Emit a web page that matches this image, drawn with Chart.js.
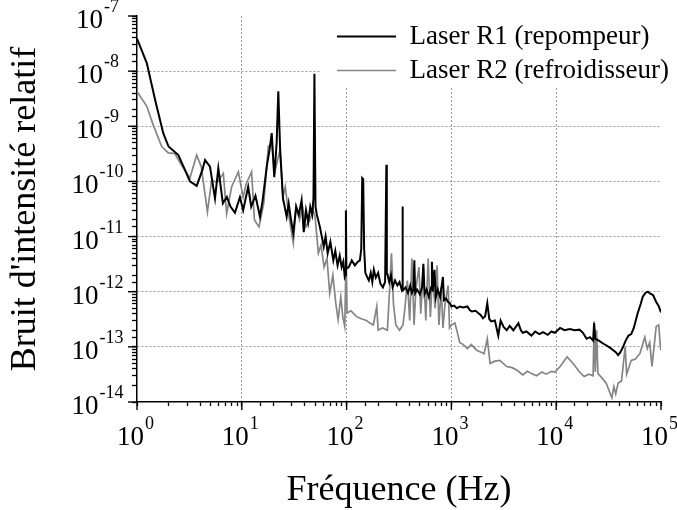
<!DOCTYPE html>
<html>
<head>
<meta charset="utf-8">
<script src="https://cdn.jsdelivr.net/npm/chart.js@4/dist/chart.umd.min.js"></script>
<style>
  html, body {margin: 0; padding: 0; background: #fff;}
  canvas {display: block;}
</style>
</head>
<body>
<canvas id="bruit" width="677" height="510"></canvas>
<script>
// Laser R1 (repompeur) - frequences (Hz) et bruit relatif
const freqR1 = [
  1, 1.24, 1.49, 1.78, 2.0, 2.48, 2.8, 3.2, 3.71, 4.2, 4.46, 4.97, 5.55, 5.97,
  6.6, 7.2, 7.8, 8.6, 9.6, 10.3, 11.5, 12.3, 13.5, 14.9, 15.8, 17.3, 18.5, 19.3,
  20.4, 21.5, 22.3, 23.2, 24.7, 26.8, 28, 29.5, 31, 33, 35, 37.2, 39, 41, 43, 45,
  47, 48.3, 49.3, 50.5, 52, 55.6, 58, 60.5, 63, 66, 70, 74.7, 78, 82, 86, 89.7,
  93, 96, 97.6, 98.5, 99.5, 105, 112, 120, 128, 134, 138, 141, 144, 147, 151, 158,
  163, 170, 176, 182, 190, 200, 210, 222, 233, 237, 239.5, 242, 245, 255, 265,
  275, 290, 305, 320, 335, 339, 341.5, 344, 347, 365, 385, 405, 420, 435, 443,
  451, 470, 500, 525, 540, 555, 580, 610, 640, 652, 665, 690, 710, 740, 780, 830,
  850, 890, 930, 970, 1000, 1060, 1130, 1200, 1300, 1420, 1500, 1570, 1700, 1800,
  1900, 2000, 2100, 2200, 2300, 2400, 2600, 2800, 2950, 3150, 3370, 3600, 3900,
  4360, 4600, 4800, 5200, 5800, 6300, 6900, 7500, 8300, 9000, 9700, 10900, 12000,
  13500, 15000, 16700, 18000, 19500, 21000, 22500, 23000, 23600, 25500, 28000,
  30000, 33000, 35000, 37000, 39000, 41000, 43500, 46000, 49000, 52000, 55000,
  60000, 64000, 67000, 71000, 75000, 79000, 84000, 90000, 95000, 100000
];
const bruitR1 = [
  3.9e-8, 1.4e-8, 3.0e-9, 7.5e-10, 4.3e-10, 3.0e-10, 1.8e-10, 1.0e-10, 8.3e-11, 1.6e-10, 2.45e-10, 1.86e-10, 4.9e-11, 1.74e-10,
  4.0e-11, 5.2e-11, 3.5e-11, 2.7e-11, 5.2e-11, 3.0e-11, 8.0e-11, 3.5e-11, 5.5e-11, 2.3e-11, 4.5e-11, 1.86e-10, 4.0e-10, 7.5e-10,
  1.2e-10, 5.0e-10, 4.3e-9, 4.0e-10, 5.0e-11, 2.3e-11, 4.0e-11, 2.0e-11, 1.15e-11, 3.5e-11, 2.5e-11, 4.6e-11, 1.2e-11, 3.0e-11, 1.8e-11, 3.5e-11,
  2.5e-11, 5.0e-11, 9.0e-9, 3.5e-11, 2.5e-11, 1.5e-11, 1.0e-11, 6.6e-12, 1.0e-11, 5.0e-12, 8.0e-12, 3.7e-12, 5.5e-12, 3.0e-12, 4.5e-12, 2.8e-12,
  3.5e-12, 1.85e-12, 2.0e-12, 3.0e-11, 2.6e-12, 2.8e-12, 3.7e-12, 3.0e-12, 3.5e-12, 3.7e-12, 6.0e-12, 1.15e-10, 1.1e-10, 6.0e-12, 2.2e-12, 1.8e-12,
  1.6e-12, 2.2e-12, 1.5e-12, 2.5e-12, 1.8e-12, 2.2e-12, 1.4e-12, 1.2e-12, 1.5e-12, 1.5e-12, 2.0e-10, 2.1e-12, 2.1e-12, 1.5e-12, 2.0e-12,
  1.2e-12, 1.6e-12, 1.3e-12, 1.5e-12, 1.1e-12, 1.2e-12, 3.5e-11, 1.2e-12, 1.07e-12, 1.2e-12, 9.5e-13, 1.3e-12, 9.5e-13, 1.1e-12, 3.7e-12,
  9.5e-13, 1.1e-12, 9.0e-13, 1.2e-12, 3.2e-12, 9.0e-13, 1.1e-12, 8.0e-13, 1.2e-12, 3.5e-12, 1.0e-12, 2.5e-12, 8.0e-13, 1.1e-12, 8.0e-13, 1.85e-12,
  7.0e-13, 7.5e-13, 6.5e-13, 6.2e-13, 5.4e-13, 5.6e-13, 5.0e-13, 5.4e-13, 5.2e-13, 5.4e-13, 4.6e-13, 4.4e-13, 4.5e-13, 4.1e-13,
  3.8e-13, 3.3e-13, 3.6e-13, 6.2e-13, 3.2e-13, 2.9e-13, 3.0e-13, 1.6e-13, 3.0e-13, 2.3e-13, 2.0e-13, 2.4e-13, 2.0e-13,
  2.7e-13, 2.0e-13, 1.8e-13, 1.9e-13, 1.6e-13, 1.9e-13, 1.7e-13, 1.85e-13, 1.65e-13, 1.9e-13, 1.8e-13, 2.2e-13, 2.0e-13,
  2.1e-13, 2.0e-13, 2.05e-13, 1.8e-13, 1.4e-13, 1.5e-13, 1.3e-13, 2.7e-13, 1.4e-13, 1.3e-13, 1.15e-13,
  1.07e-13, 9.5e-14, 8.7e-14, 8.0e-14, 7.1e-14, 8.0e-14, 1.0e-13, 1.3e-13, 1.6e-13, 1.7e-13, 2.2e-13,
  4.1e-13, 6.0e-13, 8.1e-13, 9.5e-13, 1.0e-12, 9.2e-13, 8.7e-13, 6.5e-13, 5.5e-13, 4.2e-13
];

// Laser R2 (refroidisseur)
const freqR2 = [
  1, 1.24, 1.43, 1.72, 1.99, 2.3, 2.6, 3.2, 3.71, 4.1, 4.7, 5.16, 5.8, 6.66, 7.17,
  8.0, 9.27, 10.3, 11.0, 12.4, 13.2, 14.6, 16.2, 17.9, 19.3, 20.5, 23.1, 24.7, 26,
  28, 31, 33, 35.5, 38, 41, 44.6, 48, 50, 53.8, 57, 61, 65, 69, 74, 79, 83, 88, 92,
  96, 99, 101, 110, 125, 140, 155, 167, 180, 194, 200, 220, 245, 255, 268, 280,
  295, 320, 345, 360, 380, 400, 420, 440, 460, 490, 510, 540, 570, 600, 630, 660,
  700, 730, 760, 800, 830, 870, 930, 960, 1000, 1080, 1150, 1200, 1300, 1420, 1550,
  1740, 1900, 2050, 2200, 2340, 2600, 2900, 3370, 3800, 4200, 4800, 5300, 5800,
  6500, 7300, 8000, 9000, 9700, 10900, 12700, 14500, 16700, 18500, 20500, 22500,
  23000, 23600, 24300, 25000, 27000, 30000, 32000, 34000, 35500, 37000, 39000,
  42000, 45500, 47000, 52000, 57000, 63000, 70000, 74000, 78000, 82000, 90000,
  95000, 99500
];
const bruitR2 = [
  4.3e-9, 2.3e-9, 1.05e-9, 4.3e-10, 3.3e-10, 3.2e-10, 2.1e-10, 1.15e-10, 3.0e-10, 1.86e-10, 2.8e-11, 1.07e-10, 9.5e-11, 1.4e-10, 2.6e-11,
  8.0e-11, 1.5e-10, 5.2e-11, 9.0e-11, 1.5e-10, 2.0e-11, 1.5e-11, 4.0e-11, 4.3e-10, 4.9e-10, 1.4e-10, 3.7e-10, 5.2e-11, 8.0e-11,
  2.5e-11, 7.6e-12, 3.5e-11, 2.0e-11, 3.5e-11, 1.5e-11, 2.0e-11, 3.0e-11, 2.3e-11, 5.0e-12, 7.0e-12, 2.8e-12, 4.0e-12, 9.3e-13, 2.0e-12, 6.0e-13, 3.1e-13, 8.0e-13, 3.5e-13,
  2.35e-13, 5.0e-12, 4.1e-13, 4.5e-13, 3.5e-13, 3.2e-13, 3.0e-13, 2.7e-13, 2.5e-13, 5.4e-13, 2.0e-13, 2.2e-13, 2.0e-13, 8.0e-13, 5.0e-12, 6.0e-13,
  2.5e-13, 2.0e-13, 2.5e-13, 5.0e-13, 1.6e-12, 3.0e-13, 4.0e-12, 2.5e-13, 1.2e-12, 2.8e-12, 4.0e-13, 2.8e-12, 3.0e-13, 4.0e-12, 3.5e-13, 2.0e-12,
  5.0e-13, 3.0e-12, 2.5e-13, 1.2e-12, 2.2e-13, 6.0e-13, 1.3e-12, 2.2e-13, 2.5e-13, 2.7e-13, 1.7e-13, 1.2e-13, 1.1e-13, 9.3e-14, 1.1e-13,
  8.7e-14, 8.1e-14, 7.5e-14, 1.4e-13, 5.0e-14, 5.5e-14, 5.7e-14, 4.4e-14, 4.2e-14, 3.8e-14, 3.1e-14, 3.6e-14, 3.3e-14,
  3.0e-14, 3.5e-14, 3.2e-14, 3.6e-14, 3.5e-14, 4.4e-14, 6.6e-14, 5.0e-14, 3.5e-14, 2.9e-14, 3.2e-14, 3.0e-14,
  2.9e-13, 3.5e-14, 2.0e-13, 3.3e-14, 2.8e-14, 2.2e-14, 1.6e-14, 1.2e-14, 1.9e-14, 1.4e-14, 2.2e-14,
  2.4e-14, 1.0e-13, 3.2e-14, 5.7e-14, 6.0e-14, 7.6e-14, 1.5e-13, 9.3e-14, 1.2e-13, 4.4e-14, 2.35e-13,
  2.5e-13, 8.7e-14
];

// exponents written as superscripts on the decade ticks
const xTickExp = ['0', '1', '2', '3', '4', '5'];
const yTickExp = ['-14', '-13', '-12', '-11', '-10', '-9', '-8', '-7'];

const serif = 'Liberation Serif';
Chart.defaults.font.family = serif;
Chart.defaults.color = '#000';

const toPoints = (fs, vs) => fs.map((f, i) => ({x: f, y: vs[i]}));
const decade = (v) => {
  const l = Math.log10(v);
  return Math.abs(l - Math.round(l)) < 1e-6 ? Math.round(l) : null;
};
const gridColor = (lo, hi) => (ctx) => {
  const e = ctx.tick ? decade(ctx.tick.value) : null;
  return e !== null && e > lo && e < hi ? '#9a9a9a' : 'rgba(0,0,0,0)';
};

const drawPow = (ctx, exp, cx, baseY) => {
  ctx.font = `27px "${serif}"`;
  const wb = ctx.measureText('10').width;
  ctx.font = `18px "${serif}"`;
  const we = ctx.measureText(exp).width;
  const left = cx - (wb + we) / 2;
  ctx.font = `27px "${serif}"`;
  ctx.fillText('10', left, baseY);
  ctx.font = `18px "${serif}"`;
  ctx.fillText(exp, left + wb + 1, baseY - 16);
};

// 10^n tick labels and the longer decade tick marks
const powLabels = {
  id: 'powLabels',
  afterDraw(chart) {
    const {ctx, scales: {x, y}} = chart;
    ctx.save();
    ctx.fillStyle = '#000';
    ctx.strokeStyle = '#000';
    ctx.lineWidth = 1.4;
    ctx.textAlign = 'left';
    ctx.textBaseline = 'alphabetic';
    x.ticks.forEach((t) => {
      const e = decade(t.value);
      if (e === null) return;
      const px = x.getPixelForValue(t.value);
      ctx.beginPath();
      ctx.moveTo(px, x.top);
      ctx.lineTo(px, x.top + 8);
      ctx.stroke();
      drawPow(ctx, xTickExp[e], px - 2, x.top + 43);
    });
    y.ticks.forEach((t) => {
      const e = decade(t.value);
      if (e === null) return;
      const py = y.getPixelForValue(t.value);
      ctx.beginPath();
      ctx.moveTo(y.right, py);
      ctx.lineTo(y.right - 9, py);
      ctx.stroke();
      drawPow(ctx, yTickExp[e + 14], 97, py + 12);
    });
    ctx.restore();
  },
};

// legend sits inside the plot, top right, on a white patch
const legendInPlot = {
  id: 'legendInPlot',
  afterLayout(chart) {
    const lg = chart.legend;
    const area = chart.chartArea;
    lg.left = 330;
    lg.right = chart.width;
    lg.width = lg.right - lg.left;
    lg.top = area.top;
    lg.bottom = area.bottom;
    lg.height = lg.bottom - lg.top;
    if (!lg._patched) {
      const draw = lg.draw.bind(lg);
      lg.draw = function() {
        const ctx = chart.ctx;
        ctx.save();
        ctx.fillStyle = '#fff';
        ctx.fillRect(this.left - 10, chart.chartArea.top, chart.chartArea.right - this.left + 10, 71);
        ctx.restore();
        draw();
      };
      lg._patched = true;
    }
  },
};

new Chart('bruit', {
  type: 'line',
  data: {
    datasets: [
      {
        label: 'Laser R1 (repompeur)',
        data: toPoints(freqR1, bruitR1),
        borderColor: '#000',
        backgroundColor: '#000',
        borderWidth: 2,
      },
      {
        label: 'Laser R2 (refroidisseur)',
        data: toPoints(freqR2, bruitR2),
        borderColor: '#858585',
        backgroundColor: '#858585',
        borderWidth: 1.7,
      },
    ],
  },
  options: {
    responsive: false,
    animation: false,
    devicePixelRatio: 1,
    layout: {padding: {left: 0, right: 16, top: 16, bottom: 0}},
    elements: {point: {radius: 0}, line: {tension: 0}},
    plugins: {
      tooltip: {enabled: false},
      legend: {
        position: 'chartArea',
        align: 'start',
        labels: {
          boxWidth: 59,
          boxHeight: 0,
          padding: 7,
          color: '#000',
          font: {family: serif, size: 27, lineHeight: 1},
        },
      },
    },
    scales: {
      x: {
        type: 'logarithmic',
        min: 1,
        max: 1e5,
        afterFit: (s) => {
          s.height = 108;
          s.paddingLeft = 0;
          s.paddingRight = 0;
        },
        border: {display: true, color: '#000', width: 1.5, dash: [2, 2]},
        grid: {
          color: gridColor(0, 5),
          lineWidth: 1,
          tickColor: '#000',
          tickWidth: 1.3,
          tickLength: 4,
          tickBorderDash: [],
        },
        ticks: {display: false, autoSkip: false},
        title: {
          display: true,
          text: 'Fréquence (Hz)',
          font: {family: serif, size: 36, lineHeight: 1.1},
          padding: {top: 0, bottom: 0},
        },
      },
      y: {
        type: 'logarithmic',
        min: 1e-14,
        max: 1e-7,
        afterFit: (s) => {
          s.width = 137;
          s.paddingTop = 0;
          s.paddingBottom = 0;
        },
        border: {display: true, color: '#000', width: 1.5, dash: [2, 2]},
        grid: {
          color: gridColor(-14, -7),
          lineWidth: 1,
          tickColor: '#000',
          tickWidth: 1.3,
          tickLength: 5,
          tickBorderDash: [],
        },
        ticks: {display: false, autoSkip: false},
        title: {
          display: true,
          text: "Bruit d'intensité relatif",
          font: {family: serif, size: 36},
          padding: {top: 4, bottom: 0},
        },
      },
    },
  },
  plugins: [legendInPlot, powLabels],
});
</script>
</body>
</html>
